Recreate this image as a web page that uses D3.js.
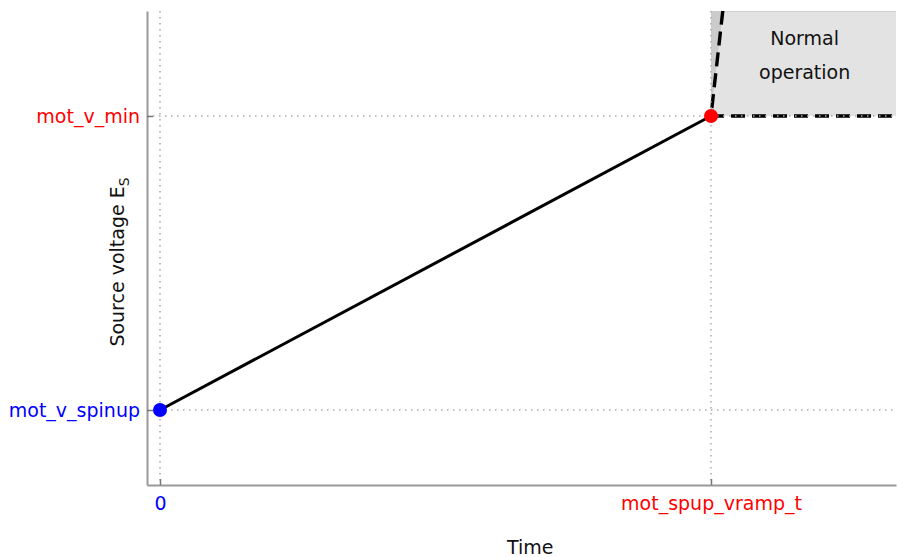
<!DOCTYPE html>
<html>
<head>
<meta charset="utf-8">
<script src="https://d3js.org/d3.v7.min.js"></script>
<style>
  body { margin: 0; background: #fff; }
  text { font-family: "DejaVu Sans", sans-serif; }
</style>
</head>
<body>
<div id="chart"></div>
<script>
// values (normalised units: time 0..1 = 0..mot_spup_vramp_t, voltage 0..1 = spinup..min)
var rampX = [0, 1];
var rampY = [0, 1];
var normalEdgeX = [1.03, 1, 1.4];
var normalEdgeY = [1.5, 1, 1];
var xTicks = [0, 1];
var xTickLabels = ["0", "mot_spup_vramp_t"];
var xTickColors = ["#0000ff", "#ff0000"];
var yTicks = [0, 1];
var yTickLabels = ["mot_v_spinup", "mot_v_min"];
var yTickColors = ["#0000ff", "#ff0000"];
var pointColors = ["#0000ff", "#ff0000"];

var W = 897, H = 557;
var margin = {top: 11, right: 1, bottom: 72, left: 147},
    width = W - margin.left - margin.right,
    height = H - margin.top - margin.bottom;

var svg = d3.select("#chart").append("svg")
    .attr("width", W)
    .attr("height", H);

var g = svg.append("g")
    .attr("transform", "translate(" + margin.left + "," + margin.top + ")");

var x = d3.scaleLinear().domain([-0.0236, 1.3358]).range([0, width]);
var y = d3.scaleLinear().domain([-0.255, 1.357]).range([height, 0]);

g.append("clipPath").attr("id", "clip")
  .append("rect").attr("width", width).attr("height", height);

var plot = g.append("g").attr("clip-path", "url(#clip)");

// normal operation region
plot.append("rect")
    .attr("x", x(1))
    .attr("y", 0)
    .attr("width", width - x(1))
    .attr("height", y(1))
    .attr("fill", "#e3e3e3");

plot.append("line")
    .attr("x1", x(1)).attr("x2", width)
    .attr("y1", 0.5).attr("y2", 0.5)
    .attr("stroke", "#cfcfcf");

// darker wedge left of the steep edge
plot.append("path")
    .datum([[1, 1], [normalEdgeX[0], normalEdgeY[0]], [1, normalEdgeY[0]]])
    .attr("d", d3.line().x(function(d) { return x(d[0]); }).y(function(d) { return y(d[1]); }))
    .attr("fill", "#cbcbcb");

// grid
g.selectAll(".vgrid").data(xTicks).enter().append("line")
    .attr("x1", function(d) { return x(d); })
    .attr("x2", function(d) { return x(d); })
    .attr("y1", 0).attr("y2", height)
    .attr("stroke", "#aaa").attr("stroke-width", 1.5)
    .attr("stroke-dasharray", "1.5,4.5");

g.selectAll(".hgrid").data(yTicks).enter().append("line")
    .attr("x1", 0).attr("x2", width)
    .attr("y1", function(d) { return y(d); })
    .attr("y2", function(d) { return y(d); })
    .attr("stroke", "#aaa").attr("stroke-width", 1.5)
    .attr("stroke-dasharray", "1.5,4.5");

// axes
var xAxis = g.append("g")
    .attr("transform", "translate(0," + height + ")")
    .call(d3.axisBottom(x).tickValues(xTicks).tickSizeInner(-6).tickSizeOuter(0)
        .tickFormat(function(d, i) { return xTickLabels[i]; }));
xAxis.select(".domain").attr("stroke", "#999").attr("stroke-width", 2);
xAxis.selectAll(".tick line").attr("stroke", "#777").attr("stroke-width", 1.5);
xAxis.selectAll(".tick text")
    .attr("y", 12)
    .style("font-size", "19px")
    .attr("fill", function(d, i) { return xTickColors[i]; });

var yAxis = g.append("g")
    .call(d3.axisLeft(y).tickValues(yTicks).tickSizeInner(-6).tickSizeOuter(0)
        .tickFormat(function(d, i) { return yTickLabels[i]; }));
yAxis.select(".domain").attr("stroke", "#999").attr("stroke-width", 2);
yAxis.selectAll(".tick line").attr("stroke", "#777").attr("stroke-width", 1.5);
yAxis.selectAll(".tick text")
    .attr("x", -7)
    .style("font-size", "19px")
    .attr("fill", function(d, i) { return yTickColors[i]; });

// ramp line
var ramp = rampX.map(function(d, i) { return [d, rampY[i]]; });
plot.append("path")
    .datum(ramp)
    .attr("d", d3.line().x(function(d) { return x(d[0]); }).y(function(d) { return y(d[1]); }))
    .attr("fill", "none")
    .attr("stroke", "#000")
    .attr("stroke-width", 3);

// normal operation boundary
var edge = normalEdgeX.map(function(d, i) { return [d, normalEdgeY[i]]; });
plot.append("path")
    .datum(edge)
    .attr("d", d3.line().x(function(d) { return x(d[0]); }).y(function(d) { return y(d[1]); }))
    .attr("fill", "none")
    .attr("stroke", "#000")
    .attr("stroke-width", 3.4)
    .attr("stroke-dasharray", "14,7");

// points
g.selectAll(".pt").data(ramp).enter().append("circle")
    .attr("cx", function(d) { return x(d[0]); })
    .attr("cy", function(d) { return y(d[1]); })
    .attr("r", 7)
    .attr("fill", function(d, i) { return pointColors[i]; });

// region label
var lbl = g.append("text")
    .attr("text-anchor", "middle")
    .style("font-size", "19px")
    .attr("fill", "#111");
lbl.append("tspan").attr("x", x(1.17)).attr("y", 34).text("Normal");
lbl.append("tspan").attr("x", x(1.17)).attr("y", 68).text("operation");

// axis titles
g.append("text")
    .attr("x", x(0.672))
    .attr("y", height + 69)
    .attr("text-anchor", "middle")
    .style("font-size", "19px")
    .attr("fill", "#111")
    .text("Time");

var yt = g.append("text")
    .attr("transform", "translate(-23," + (height / 2 + 14) + ") rotate(-90)")
    .attr("text-anchor", "middle")
    .style("font-size", "19px")
    .attr("fill", "#111");
yt.append("tspan").text("Source voltage E");
yt.append("tspan").attr("dy", 5).style("font-size", "14px").text("S");
</script>
</body>
</html>
